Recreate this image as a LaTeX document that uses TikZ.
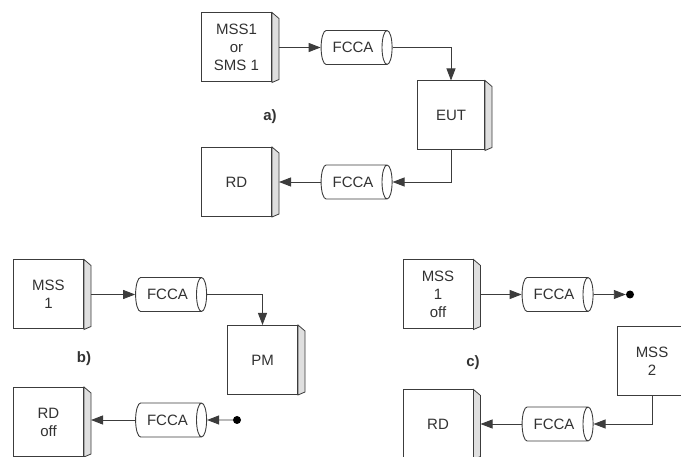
\documentclass[tikz,border=0pt]{standalone}
\usepackage{fontspec}
\setmainfont{Liberation Sans}
\usetikzlibrary{shapes.geometric,arrows.meta}
\definecolor{linegray}{RGB}{60,60,60}
\definecolor{textgray}{RGB}{50,50,50}
\tikzset{
  unit/.style={draw=linegray, line width=1pt, fill=white, align=center,
               minimum width=70pt, minimum height=69pt, inner sep=1pt,
               text=textgray, font=\fontsize{15pt}{18pt}\selectfont},
  cable/.style={cylinder, draw=linegray, line width=0.9pt, aspect=0.8,
                minimum width=34pt, minimum height=71pt, inner sep=1pt,
                text=textgray, font=\fontsize{15pt}{18pt}\selectfont},
  side/.style={draw=linegray, line width=0.8pt, fill=gray!25},
  dot/.style={circle, fill=black, inner sep=0pt, minimum size=8pt},
  tag/.style={font=\bfseries\fontsize{15pt}{18pt}\selectfont, text=textgray},
  wire/.style={-{Triangle[length=12pt,width=9pt]}, linegray, line width=0.9pt}
}
\begin{document}
\begin{tikzpicture}[x=1pt,y=-1pt]
  \useasboundingbox (0,0) rectangle (681,457);
  % a)
  \node[unit] (mssa) at (236.5,47.5) {MSS1\\or\\SMS 1};
  \node[cable] (fcaa) at (353,47.5) {FCCA};
  \node[unit, minimum width=67pt] (eut) at (451,115.5) {EUT};
  \node[tag] (taga) at (270,117) {a)};
  \node[unit] (rda) at (236.5,182) {RD};
  \node[cable] (fcab) at (353,182) {FCCA};
  % b)
  \node[unit] (mssb) at (48.5,294.5) {MSS\\1};
  \node[cable] (fcba) at (167.5,294.5) {FCCA};
  \node[unit] (pm) at (262.5,360) {PM};
  \node[tag] (tagb) at (84,359) {b)};
  \node[unit] (rdb) at (48.5,422) {RD\\off};
  \node[cable] (fcbb) at (167.5,420) {FCCA};
  \node[dot] (dotb) at (237,420) {};
  % c)
  \node[unit] (mssc) at (438,294.5) {MSS\\1\\off};
  \node[cable] (fcca) at (554,294.5) {FCCA};
  \node[dot] (dotc) at (630,294.5) {};
  \node[unit] (mssd) at (652,361.5) {MSS\\2};
  \node[tag] (tagc) at (473,363) {c)};
  \node[unit] (rdc) at (438,424.5) {RD};
  \node[cable] (fccb) at (554,424) {FCCA};
  % raised right edges
  \foreach \n in {mssa,eut,rda,mssb,pm,rdb,mssc,mssd,rdc}
    \draw[side] (\n.north east) -- ++(7pt,-6pt) -- ([shift={(7pt,3pt)}]\n.south east) -- (\n.south east) -- cycle;
  % links
  \draw[wire] ([xshift=7pt]mssa.east) -- (fcaa.west);
  \draw[wire] (fcaa.east) -| (eut.north);
  \draw[wire] (eut.south) |- (fcab.east);
  \draw[wire] (fcab.west) -- ([xshift=7pt]rda.east);
  \draw[wire] ([xshift=7pt]mssb.east) -- (fcba.west);
  \draw[wire] (fcba.east) -| (pm.north);
  \draw[wire] (dotb) -- (fcbb.east);
  \draw[wire] (fcbb.west) -- ([xshift=7pt]rdb.east |- fcbb.west);
  \draw[wire] ([xshift=7pt]mssc.east) -- (fcca.west);
  \draw[wire] (fcca.east) -- (dotc);
  \draw[wire] (mssd.south) |- (fccb.east);
  \draw[wire] (fccb.west) -- ([xshift=7pt]rdc.east |- fccb.west);
\end{tikzpicture}
\end{document}
